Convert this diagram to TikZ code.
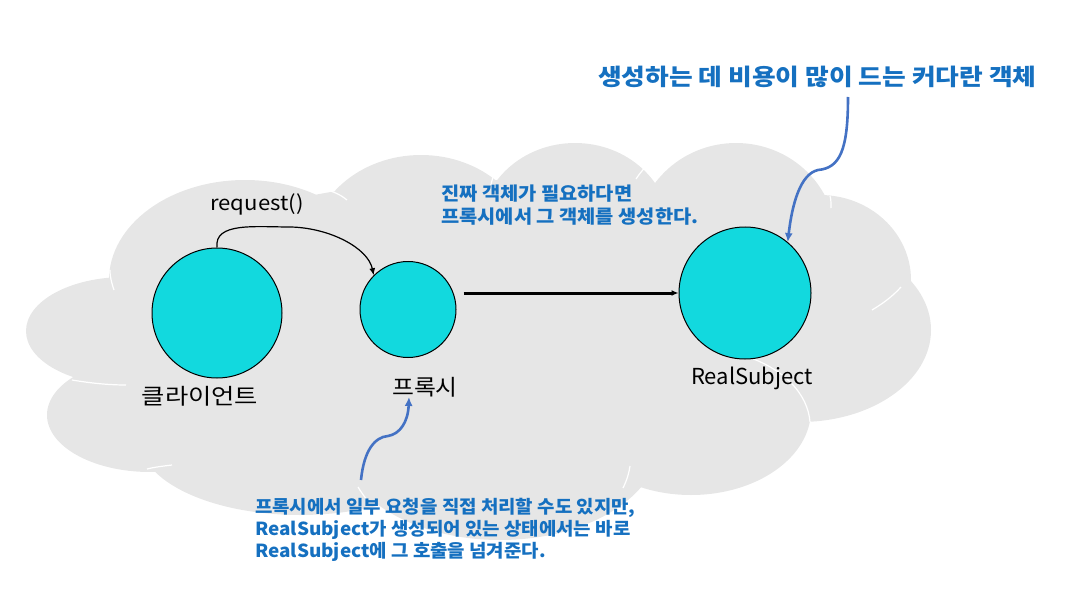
\documentclass[tikz,border=0pt]{standalone}
\usepackage{fontspec}
\setmainfont{Noto Sans CJK KR}
\usetikzlibrary{arrows.meta,positioning}
\definecolor{cloudGray}{RGB}{230,230,230}
\definecolor{orbCyan}{RGB}{18,217,222}
\definecolor{noteBlue}{RGB}{21,112,192}
\definecolor{pointerBlue}{RGB}{68,114,196}
\newcommand{\widen}[1]{\addfontfeatures{FakeStretch=#1}}

\begin{document}
\begin{tikzpicture}[x=1pt,y=-1pt,
  orb/.style={circle,draw=black,line width=1pt,fill=orbCyan,inner sep=0pt},
  lbl/.style={inner sep=0pt,font=\fontsize{22}{26}\selectfont},
  note/.style={inner sep=0pt,align=left,text=noteBlue},
  seam/.style={white,line width=1.2pt},
  arrow/.style={-{Latex[length=7pt,width=6pt]},line width=1.2pt},
  pointer/.style={-{Latex[length=9pt,width=8pt]},line width=2.6pt,draw=pointerBlue}
]
  \useasboundingbox (0,0) rectangle (1092,596);
  \fill[cloudGray] (480,330) ellipse [x radius=380,y radius=150]
    (245,280) ellipse [x radius=136,y radius=100]
    (421,250) ellipse [x radius=110,y radius=95]
    (575,230) ellipse [x radius=95,y radius=87]
    (736,240) ellipse [x radius=100,y radius=97]
    (820,280) ellipse [x radius=91,y radius=85]
    (800,330) ellipse [x radius=131,y radius=92]
    (691,410) ellipse [x radius=120,y radius=85]
    (500,440) ellipse [x radius=160,y radius=100]
    (300,440) ellipse [x radius=160,y radius=75]
    (150,415) ellipse [x radius=103,y radius=57]
    (125,331) ellipse [x radius=99,y radius=54];
  \draw[seam] (323,189) .. controls (333,191) and (341,195) .. (347,200);
  \draw[seam] (110,270) .. controls (110,278) and (112,284) .. (114,290);
  \draw[seam] (72,380) .. controls (90,383) and (108,385) .. (126,385);
  \draw[seam] (147,469) .. controls (155,467) and (164,466) .. (172,465);
  \draw[seam] (358,487) .. controls (361,492) and (364,496) .. (367,500);
  \draw[seam] (630,466) .. controls (629,473) and (627,480) .. (623,488);
  \draw[seam] (742,355) .. controls (785,368) and (808,395) .. (810,422);
  \draw[seam] (901,287) .. controls (892,297) and (882,304) .. (872,310);
  \draw[seam] (830,196) .. controls (831,199) and (831,203) .. (831,208);
  \draw[seam] (649,164) .. controls (644,168) and (640,173) .. (636,179);
  \draw[seam] (495,172) .. controls (493,176) and (492,180) .. (491,185);

  \node[orb,minimum size=130pt] (client) at (217,313) {};
  \node[orb,minimum size=96pt] (proxy) at (408,309.5) {};
  \node[orb,minimum size=132pt] (real) at (745,293) {};

  \node[lbl,anchor=base] (clbl) at (200,404) {\widen{1.15}클라이언트};
  \node[lbl,anchor=base] (plbl) at (425,395) {\widen{1.08}프록시};
  \node[lbl,anchor=base] (rlbl) at (752,384) {RealSubject};
  \node[lbl,anchor=base,font=\fontsize{20.5}{24}\selectfont] (req) at (257,211) {\widen{1.08}request()};

  \node[note,anchor=base west,font=\bfseries\fontsize{23}{27}\selectfont\widen{1.12}] (title) at (598,86) {생성하는 데 비용이 많이 드는 커다란 객체};
  \node[note,anchor=base west,font=\bfseries\fontsize{18.5}{23}\selectfont\widen{1.07}] (mid) at (441,224) {진짜 객체가 필요하다면\\프록시에서 그 객체를 생성한다.};
  \node[note,anchor=base west,font=\bfseries\fontsize{18}{22}\selectfont\widen{1.05}] (low) at (255,557) {프록시에서 일부 요청을 직접 처리할 수도 있지만,\\RealSubject가 생성되어 있는 상태에서는 바로\\RealSubject에 그 호출을 넘겨준다.};

  \coordinate (tailA) at (848,97);
  \coordinate (tailB) at (361,480);

  \draw[arrow] (client.north) .. controls (214,222) and (255,227) .. (291,227)
    .. controls (330,228) and (368,248) .. (proxy.north west);
  \draw[arrow,line width=3pt,shorten <=7pt] (proxy.east |- real.west) -- (real.west);
  \draw[pointer] (tailA) .. controls (848,150) and (840,168) .. (818,170)
    .. controls (800,174) and (792,205) .. (real.50);
  \draw[pointer] (tailB) .. controls (364,450) and (375,437) .. (388,436)
    .. controls (400,434) and (408,422) .. ([xshift=17pt]plbl.south west);
\end{tikzpicture}
\end{document}
